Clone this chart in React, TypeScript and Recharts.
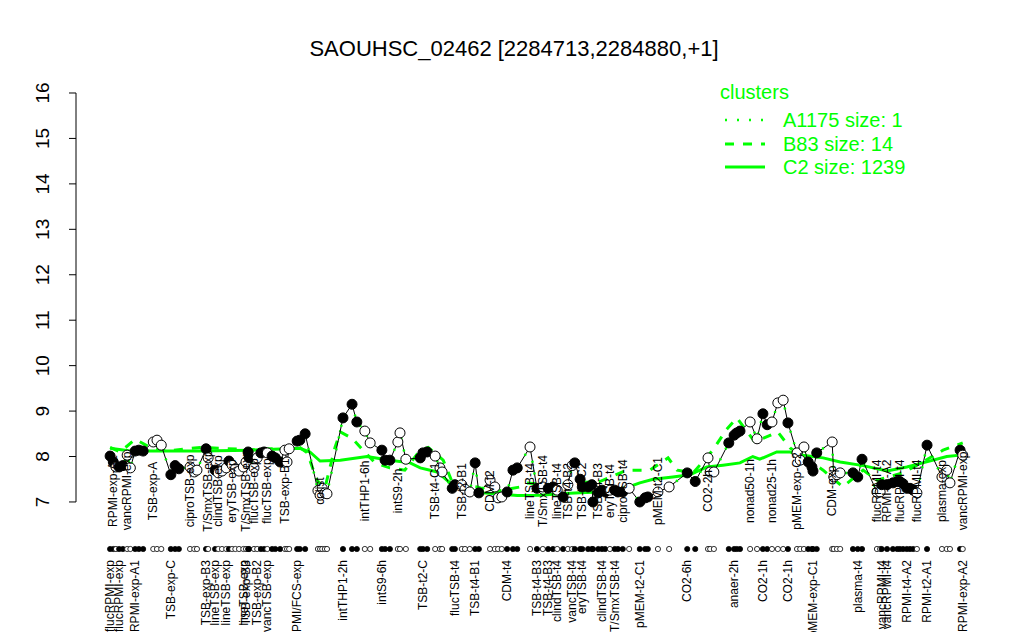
import { ComposedChart, Line, Scatter, XAxis, YAxis, ReferenceLine } from "recharts";

const GREEN = "#00ff00";
const FONT = '"Liberation Sans", Arial, Helvetica, sans-serif';

// sample positions along the x axis (sample units)
const samplePos = [
  0, 0.6, 1.1, 1.7, 2.4, 3.2, 3.8, 4.7, 5.4, 6.2,
  8.1, 8.8, 9.6, 11.4, 12.2, 12.9, 15.0, 15.8, 16.3, 18.0,
  18.4, 19.7, 20.3, 21.0, 21.8, 22.3, 22.9, 23.5, 24.2, 25.0,
  25.5, 25.9, 26.1, 27.0, 27.6, 28.3, 28.9, 29.5, 30.4, 31.0,
  31.9, 32.8, 33.2, 33.6, 35.1, 35.6, 36.6, 39.0, 39.4, 39.8,
  40.3, 40.7, 43.7, 45.4, 46.3, 47.8, 48.8, 51.0, 51.6, 52.5,
  54.0, 54.4, 55.5, 58.2, 58.7, 59.5, 61.0, 61.9, 62.3, 64.2,
  64.7, 66.0, 66.6, 67.5, 68.5, 69.2, 71.3, 72.2, 72.8, 73.5,
  74.5, 75.6, 76.4, 78.8, 80.1, 81.2, 82.2, 83.1, 83.9, 85.0,
  85.9, 86.7, 87.2, 88.2, 88.6, 89.7, 90.4, 90.6, 91.6, 92.3,
  92.9, 93.8, 94.7, 95.3, 96.2, 97.4, 99.4, 100.4, 100.9, 102.8,
  104.9, 108.3, 109.8, 112.2, 112.6, 113.3, 116.1, 117.1, 117.6, 118.2,
  120.1, 121.4, 122.5, 123.3, 124.2, 125.3, 126.3, 127.2, 128.9, 129.5,
  130.2, 131.0, 131.7, 131.9, 132.6, 135.5, 135.8, 136.4, 137.0, 139.4,
  140.3, 141.1, 143.9, 144.5, 144.8, 145.8, 146.9, 147.7, 148.2, 148.8,
  149.5, 150.1, 150.7, 151.4, 153.3, 156.1, 157.0, 157.6, 159.5, 160.0,
];

// expression of SAOUHSC_02462 (log2)
const expression = [
  8.01, 7.88, 7.77, 7.77, 7.8, 8.03, 7.75, 8.12, 8.14, 8.12,
  8.32, 8.36, 8.25, 7.6, 7.8, 7.73, 7.77, 7.66, 7.7, 8.17,
  7.97, 7.7, 7.64, 7.68, 7.75, 7.9, 7.81, 7.73, 7.68, 7.77,
  7.88, 8.1, 7.97, 7.75, 7.97, 8.08, 8.1, 8.08, 8.01, 7.97,
  7.88, 8.14, 7.88, 8.17, 8.34, 8.36, 8.5, 7.25, 7.15, 7.3,
  7.2, 7.18, 8.85, 9.15, 8.76, 8.56, 8.3, 8.14, 7.92, 7.92,
  8.32, 8.52, 7.94, 7.97, 8.08, 8.1, 8.01, 7.75, 7.66, 7.3,
  7.38, 7.38, 7.28, 7.22, 7.86, 7.2, 7.48, 7.33, 7.09, 7.11,
  7.22, 7.7, 7.75, 8.21, 7.3, 7.33, 7.3, 7.33, 7.26, 7.11,
  7.38, 7.8, 7.86, 7.5, 7.33, 7.33, 7.38, 7.0, 7.2, 7.26,
  7.22, 7.26, 7.26, 7.22, 7.22, 7.3, 7.0, 7.09, 7.11, 7.22,
  7.33, 7.64, 7.45, 7.97, 7.66, 7.66, 8.3, 8.47, 8.52, 8.56,
  8.76, 8.39, 8.94, 8.7, 8.76, 9.18, 9.24, 8.74, 8.08, 7.92,
  8.21, 7.88, 7.77, 7.68, 8.08, 8.32, 7.55, 7.6, 7.64, 7.64,
  7.55, 7.94, 7.22, 7.22, 7.38, 7.38, 7.42, 7.45, 7.45, 7.4,
  7.3, 7.3, 7.26, 7.2, 8.25, 7.55, 7.7, 7.42, 8.14, 8.03,
];

// 1 = filled circle, 0 = open circle
const filled = [
  1, 1, 0, 1, 1, 0, 0, 1, 1, 1,
  0, 0, 0, 1, 1, 1, 0, 0, 0, 1,
  0, 1, 0, 0, 0, 1, 0, 0, 0, 0,
  0, 1, 1, 0, 0, 1, 1, 0, 1, 1,
  1, 0, 0, 0, 1, 1, 1, 0, 0, 0,
  0, 0, 1, 1, 1, 0, 0, 1, 1, 1,
  0, 0, 0, 1, 1, 1, 0, 0, 0, 1,
  1, 0, 0, 0, 1, 1, 0, 0, 0, 0,
  1, 1, 1, 0, 1, 0, 1, 1, 0, 1,
  0, 0, 1, 1, 1, 1, 1, 1, 1, 1,
  1, 0, 1, 1, 1, 0, 1, 1, 1, 0,
  0, 1, 1, 0, 0, 0, 1, 1, 1, 1,
  0, 0, 1, 1, 0, 0, 0, 1, 0, 0,
  0, 1, 1, 1, 1, 0, 0, 0, 0, 1,
  1, 1, 0, 0, 1, 1, 1, 1, 1, 1,
  1, 1, 1, 0, 1, 0, 0, 0, 1, 0,
];

// cluster C2 (size 1239)
const c2Pos = [0, 3.8, 9.4, 16.9, 26.3, 35.6, 37.5, 39.4, 43.2, 48.2, 52.5, 56.3, 58.2, 61.4, 63.8, 67.0, 70.0, 76.4, 80.7, 84.4, 88.2, 91.9, 97.0, 99.4, 101.9, 105.6, 108.8, 112.0, 115.0, 118.2, 120.6, 121.9, 125.1, 127.6, 130.0, 133.8, 137.0, 141.3, 145.8, 149.5, 152.5, 157.0, 159.5, 160.4];
const c2Val = [8.18, 8.12, 8.12, 8.12, 8.14, 8.18, 8.1, 7.9, 7.92, 8.0, 7.92, 7.86, 7.75, 7.66, 7.42, 7.26, 7.2, 7.14, 7.15, 7.18, 7.2, 7.22, 7.32, 7.42, 7.5, 7.55, 7.6, 7.77, 7.81, 7.86, 8.0, 7.94, 8.1, 8.1, 8.03, 7.97, 7.88, 7.8, 7.68, 7.77, 7.86, 8.0, 8.03, 8.1];

// cluster B83 (size 14)
const b83Pos = [0, 1.9, 4.7, 7.5, 10.7, 16.9, 26.3, 35.6, 37.0, 38.8, 40.3, 42.2, 43.2, 45.4, 49.7, 52.5, 55.3, 58.2, 59.7, 62.5, 64.4, 68.9, 71.9, 76.9, 78.2, 82.0, 84.4, 91.9, 97.0, 101.3, 104.7, 106.4, 109.4, 113.1, 115.7, 117.6, 121.0, 125.3, 127.6, 130.0, 133.8, 137.5, 141.3, 143.9, 148.8, 152.5, 156.3, 160.0];
const b83Val = [8.2, 8.1, 8.38, 8.2, 8.12, 8.2, 8.15, 8.2, 8.08, 7.48, 7.3, 8.2, 8.54, 8.4, 7.86, 7.75, 7.7, 8.14, 8.2, 7.92, 7.38, 7.33, 7.22, 7.33, 7.42, 7.38, 7.4, 7.45, 7.7, 7.7, 7.97, 7.7, 7.64, 8.14, 8.6, 8.85, 8.32, 8.54, 8.19, 8.0, 7.7, 7.33, 7.7, 7.48, 7.64, 7.88, 8.14, 8.3];

// sample names printed above the strip / below the strip
const topLabelIndex = [1, 5, 10, 16, 20, 22, 26, 30, 33, 37, 41, 48, 55, 60, 66, 71, 76, 83, 85, 88, 90, 94, 98, 101, 104, 109, 113, 120, 124, 128, 135, 142, 145, 148, 153, 155, 159];
const topLabelText = ["RPMI-exp-A2", "vancRPMI-exp", "TSB-exp-A", "ciproTSB-exp", "T/SmxTSB-exp", "clindTSB-exp", "eryTSB-exp", "T/SmxTSB-exp", "flucTSB-exp", "flucTSB-exp", "TSB-exp-B1", "colist", "intTHP1-6h", "intS9-2h", "TSB-t4-C1", "TSB-t2-B1", "CDM-t2", "lineTSB-t4", "T/SmxTSB-t4", "lineTSB-t4", "TSB-t4-B2", "TSB-t4-C2", "TSB-t4-B3", "eryTSB-t4", "ciproTSB-t4", "pMEM-t2-C1", "CO2-2h", "nonad50-1h", "nonad25-1h", "pMEM-exp-C2", "CDM-exp", "flucRPMI-t4", "RPMI-t4-A2", "flucRPMI-t4", "flucRPMI-t4", "plasma-exp", "vancRPMI-exp"];
const bottomLabelIndex = [0, 3, 7, 13, 19, 21, 24, 29, 30, 34, 37, 44, 52, 57, 64, 70, 74, 80, 84, 86, 88, 91, 94, 99, 102, 106, 111, 117, 122, 127, 133, 140, 144, 145, 150, 154, 159];
const bottomLabelText = ["flucRPMI-exp", "flucRPMI-exp", "RPMI-exp-A1", "TSB-exp-C", "TSB-exp-B3", "lineTSB-exp", "lineTSB-exp", "lineTSB-exp", "TSB-exp-B3", "TSB-exp-B2", "vancTSB-exp", "RPMI/FCS-exp", "intTHP1-2h", "intS9-6h", "TSB-t2-C", "flucTSB-t4", "TSB-t4-B1", "CDM-t4", "TSB-t4-B3", "TSB-t4-B3", "clindTSB-t4", "vancTSB-t4", "eryTSB-t4", "clindTSB-t4", "T/SmxTSB-t4", "pMEM-t2-C1", "CO2-6h", "anaer-2h", "CO2-1h", "CO2-1h", "pMEM-exp-C1", "plasma-t4", "vancRPMI-t4", "vancRPMI-t4", "RPMI-t4-A2", "RPMI-t2-A1", "RPMI-exp-A2"];

const yTicks = [7, 8, 9, 10, 11, 12, 13, 14, 15, 16];

const samples = samplePos.map((pos, i) => ({
  pos,
  value: expression[i],
  filled: filled[i] === 1,
  top: topLabelText[topLabelIndex.indexOf(i)],
  bottom: bottomLabelText[bottomLabelIndex.indexOf(i)],
}));
const c2Data = c2Pos.map((pos, i) => ({ pos, value: c2Val[i] }));
const b83Data = b83Pos.map((pos, i) => ({ pos, value: b83Val[i] }));

const SampleTick = (props: any) => {
  const { x, y, payload } = props;
  const s = samples[samplePos.indexOf(payload.value)];
  if (!s) return null;
  const yTop = y - 27;
  const yBot = y + 42;
  return (
    <g>
      <circle cx={x} cy={y + 31} r={2.6} fill={s.filled ? "#000" : "#fff"} stroke="#000" strokeWidth={0.8} />
      {s.top && (
        <text x={x} y={yTop} dy="0.35em" transform={`rotate(-90 ${x} ${yTop})`} textAnchor="middle" fontSize={12} fontFamily={FONT} fill="#000">
          {s.top}
        </text>
      )}
      {s.bottom && (
        <text x={x} y={yBot} dy="0.35em" transform={`rotate(-90 ${x} ${yBot})`} textAnchor="end" fontSize={12} fontFamily={FONT} fill="#000">
          {s.bottom}
        </text>
      )}
    </g>
  );
};

const ValueTick = (props: any) => {
  const { x, y, payload } = props;
  const tx = x - 20;
  return (
    <text x={tx} y={y} transform={`rotate(-90 ${tx} ${y})`} textAnchor="middle" fontSize={19} fontFamily={FONT} fill="#000">
      {payload.value}
    </text>
  );
};

const Dot = (props: any) => {
  const { cx, cy, payload } = props;
  return <circle cx={cx} cy={cy} r={5} fill={payload.filled ? "#000" : "#fff"} stroke="#000" strokeWidth={1} />;
};

export default function App() {
  return (
    <div style={{ position: "relative", width: 1024, height: 640, margin: -8, background: "#fff" }}>
      <ComposedChart width={1024} height={640} margin={{ top: 77, right: 49, left: 0, bottom: 0 }}>
        <XAxis
          type="number"
          dataKey="pos"
          domain={[-6.4, 162.3]}
          ticks={samplePos}
          interval={0}
          axisLine={false}
          tickLine={false}
          tickSize={0}
          tickMargin={0}
          height={122}
          tick={<SampleTick />}
        />
        <YAxis
          type="number"
          domain={[6.647, 16.352]}
          ticks={yTicks}
          interval={0}
          width={76}
          axisLine={false}
          tickLine={{ stroke: "#000" }}
          tickSize={7}
          tickMargin={0}
          tick={<ValueTick />}
        />
        <ReferenceLine segment={[{ x: -6.4, y: 7 }, { x: -6.4, y: 16 }]} stroke="#000" strokeWidth={1} ifOverflow="visible" />
        <Line data={c2Data} dataKey="value" type="linear" stroke={GREEN} strokeWidth={3} dot={false} isAnimationActive={false} />
        <Line data={b83Data} dataKey="value" type="linear" stroke={GREEN} strokeWidth={3} strokeDasharray="9 9" dot={false} isAnimationActive={false} />
        <Line data={samples} dataKey="value" type="linear" stroke="#000" strokeWidth={1} dot={false} isAnimationActive={false} />
        <Line data={samples} dataKey="value" type="linear" stroke={GREEN} strokeWidth={2.5} strokeDasharray="2 10" dot={false} isAnimationActive={false} />
        <Scatter data={samples} dataKey="value" shape={<Dot />} isAnimationActive={false} />
      </ComposedChart>
      <svg width={1024} height={640} style={{ position: "absolute", left: 0, top: 0, pointerEvents: "none" }}>
        <text x={514} y={56} textAnchor="middle" fontSize={22} fontFamily={FONT} fill="#000">
          SAOUHSC_02462 [2284713,2284880,+1]
        </text>
        <g fontFamily={FONT} fontSize={20} fill={GREEN}>
          <text x={720} y={99}>clusters</text>
          <line x1={725} x2={765} y1={120} y2={120} stroke={GREEN} strokeWidth={2.5} strokeDasharray="2 10" />
          <text x={783} y={127}>A1175 size: 1</text>
          <line x1={725} x2={765} y1={144} y2={144} stroke={GREEN} strokeWidth={3} strokeDasharray="9 9" />
          <text x={783} y={151}>B83 size: 14</text>
          <line x1={725} x2={765} y1={167} y2={167} stroke={GREEN} strokeWidth={3} />
          <text x={783} y={174}>C2 size: 1239</text>
        </g>
      </svg>
    </div>
  );
}
